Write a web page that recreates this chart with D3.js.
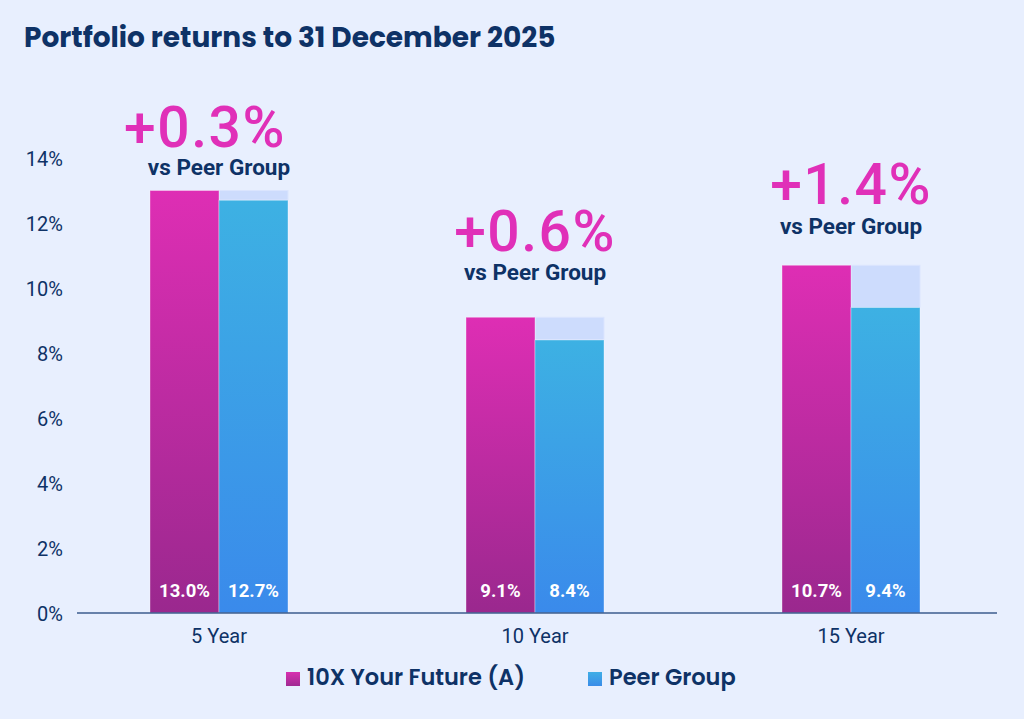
<!DOCTYPE html>
<html><head><meta charset="utf-8">
<script src="https://cdn.jsdelivr.net/npm/d3@7"></script>
<style>
html,body{margin:0;padding:0;background:#e8effe;}
svg{display:block;}
</style></head>
<body><svg id="chart" width="1024" height="719"></svg>
<script>
const title = "Portfolio returns to 31 December 2025";
const categories = ["5 Year", "10 Year", "15 Year"];
const fundValues = [13.0, 9.1, 10.7];
const peerValues = [12.7, 8.4, 9.4];
const diffLabels = ["+0.3%", "+0.6%", "+1.4%"];
const yTicks = [0, 2, 4, 6, 8, 10, 12, 14];
const seriesNames = ["10X Your Future (A)", "Peer Group"];

const W = 1024, H = 719;
const navy = "#0e3266";
const svg = d3.select("#chart");
svg.append("rect").attr("width", W).attr("height", H).attr("fill", "#e8effe");

const defs = svg.append("defs");
function grad(id, top, bottom) {
  const g = defs.append("linearGradient").attr("id", id).attr("x1", 0).attr("y1", 0).attr("x2", 0).attr("y2", 1);
  g.append("stop").attr("offset", "0%").attr("stop-color", top);
  g.append("stop").attr("offset", "100%").attr("stop-color", bottom);
}
grad("gPink", "#de2eb4", "#9a288e");
grad("gBlue", "#3db1e3", "#3a8aeb");
grad("gPinkL", "#d830b0", "#a02a92");
grad("gBlueL", "#40aee6", "#3a8ce8");

const y = d3.scaleLinear().domain([0, 14]).range([613, 158]);
const x = d3.scaleBand().domain(categories).range([61, 1009]).paddingInner(0.5633).paddingOuter(0.2816);
const bw = x.bandwidth() / 2;

// title
svg.append("text").attr("x", 24).attr("y", 47)
  .attr("font-family", "Poppins, Inter, sans-serif").attr("font-weight", 700)
  .attr("font-size", 28).attr("fill", navy).text(title);

// y axis tick labels
const yAxis = d3.axisLeft(y).tickValues(yTicks).tickFormat(d => d + "%").tickSize(0).tickPadding(0);
const ya = svg.append("g").attr("transform", "translate(63,0)").call(yAxis);
ya.select(".domain").remove();
ya.selectAll("text").attr("font-family", "Roboto, sans-serif").attr("font-size", 20)
  .attr("fill", navy).attr("dy", "0.35em");

// bars
const groups = svg.append("g").selectAll("g").data(categories).join("g");
// light shadow above peer bars
groups.append("rect")
  .attr("x", d => x(d) + bw).attr("width", bw)
  .attr("y", (d, i) => y(fundValues[i]))
  .attr("height", (d, i) => y(peerValues[i]) - y(fundValues[i]))
  .attr("fill", "#cddcfd").attr("stroke", "#dbe5fe").attr("stroke-width", 1);
groups.append("rect")
  .attr("x", d => x(d)).attr("width", bw)
  .attr("y", (d, i) => y(fundValues[i]))
  .attr("height", (d, i) => y(0) - y(fundValues[i]))
  .attr("fill", "url(#gPink)").attr("stroke", "rgba(255,255,255,0.35)").attr("stroke-width", 1);
groups.append("rect")
  .attr("x", d => x(d) + bw).attr("width", bw)
  .attr("y", (d, i) => y(peerValues[i]))
  .attr("height", (d, i) => y(0) - y(peerValues[i]))
  .attr("fill", "url(#gBlue)").attr("stroke", "rgba(255,255,255,0.35)").attr("stroke-width", 1);

// value labels inside bars
groups.append("text")
  .attr("x", d => x(d) + bw / 2).attr("y", y(0) - 16)
  .attr("text-anchor", "middle").attr("font-family", "Roboto, sans-serif").attr("font-weight", 700)
  .attr("font-size", 18.5).attr("fill", "#fff").text((d, i) => fundValues[i].toFixed(1) + "%");
groups.append("text")
  .attr("x", d => x(d) + bw * 1.5).attr("y", y(0) - 16)
  .attr("text-anchor", "middle").attr("font-family", "Roboto, sans-serif").attr("font-weight", 700)
  .attr("font-size", 18.5).attr("fill", "#fff").text((d, i) => peerValues[i].toFixed(1) + "%");

// difference labels above bars
const bigOff = [44, 66, 61];
const vsOff = [16, 37, 31];
const bigDx = [-14, 0, 0];
groups.append("text")
  .attr("x", (d, i) => x(d) + bw + bigDx[i])
  .attr("y", (d, i) => y(fundValues[i]) - bigOff[i])
  .attr("text-anchor", "middle").attr("font-family", "Roboto, sans-serif").attr("font-weight", 500)
  .attr("font-size", 57).attr("letter-spacing", 1.5).attr("fill", "#e030b8").text((d, i) => diffLabels[i]);
groups.append("text")
  .attr("x", d => x(d) + bw)
  .attr("y", (d, i) => y(fundValues[i]) - vsOff[i])
  .attr("text-anchor", "middle").attr("font-family", "Roboto, sans-serif").attr("font-weight", 700)
  .attr("font-size", 22.5).attr("fill", navy).text("vs Peer Group");

// x axis
svg.append("line").attr("x1", 77).attr("x2", 997).attr("y1", y(0)).attr("y2", y(0))
  .attr("stroke", "#3d5d8e").attr("stroke-width", 1.5);
const xAxis = d3.axisBottom(x).tickSize(0).tickPadding(0);
const xa = svg.append("g").attr("transform", `translate(0,${y(0)})`).call(xAxis);
xa.select(".domain").remove();
xa.selectAll("text").attr("font-family", "Roboto, sans-serif").attr("font-size", 20)
  .attr("fill", navy).attr("dy", 0).attr("y", 30);

// legend
const legX = [286, 588];
const legFill = ["url(#gPinkL)", "url(#gBlueL)"];
const leg = svg.append("g").selectAll("g").data(seriesNames).join("g")
  .attr("transform", (d, i) => `translate(${legX[i]},672)`);
leg.append("rect").attr("width", 14).attr("height", 14).attr("fill", (d, i) => legFill[i]);
leg.append("text").attr("x", 21).attr("y", 13)
  .attr("font-family", "Poppins, Inter, sans-serif").attr("font-weight", 600)
  .attr("font-size", 22.5).attr("fill", navy).text(d => d);
</script></body></html>
